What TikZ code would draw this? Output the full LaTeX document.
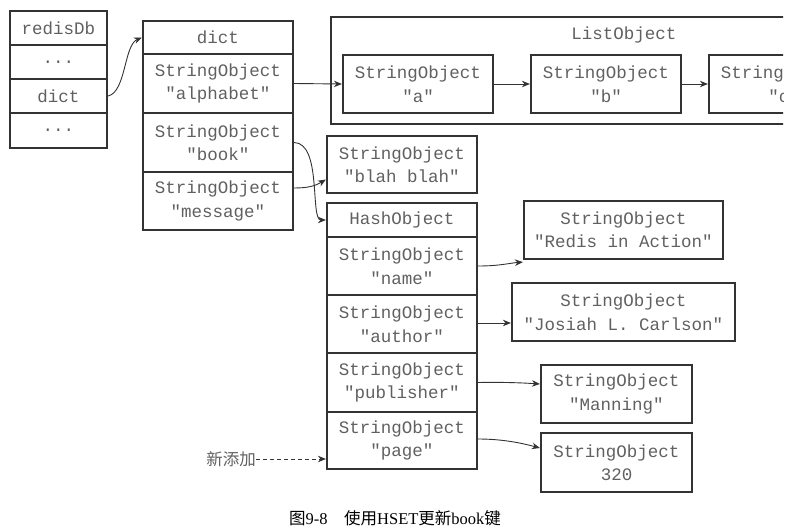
\documentclass[tikz,border=0pt]{standalone}
\usepackage{fontspec}
\setmainfont{Liberation Serif}
\setmonofont{Liberation Mono}
\newfontfamily\cjk{Noto Sans CJK SC}
\usetikzlibrary{arrows.meta}
\definecolor{txtgray}{HTML}{606060}
\definecolor{linegray}{HTML}{333333}
\tikzset{
  cell/.style={draw=linegray, line width=2.2pt, inner sep=0pt, align=center,
    text=txtgray, font=\ttfamily\fontsize{17.5}{23.5}\selectfont},
  conn/.style={draw=linegray, line width=0.9pt, -{Stealth[length=8pt,width=6.5pt]}},
}
\begin{document}
\begin{tikzpicture}[x=1pt,y=-1pt]
\useasboundingbox (0,0) rectangle (798,532);
% redisDb
\node[cell, minimum width=97pt, minimum height=34pt] (r0) at (58.5,28) {redisDb};
\node[cell, minimum width=97pt, minimum height=34pt] (r1) at (58.5,62) {...};
\node[cell, minimum width=97pt, minimum height=34pt] (r2) at (58.5,96) {dict};
\node[cell, minimum width=97pt, minimum height=35pt] (r3) at (58.5,130.5) {...};
% dict
\node[cell, minimum width=150pt, minimum height=33pt] (d0) at (218,37.5) {dict};
\node[cell, minimum width=150pt, minimum height=59pt] (d1) at (218,83.5) {StringObject\\"alphabet"};
\node[cell, minimum width=150pt, minimum height=59pt] (d2) at (218,142.5) {StringObject\\"book"};
\node[cell, minimum width=150pt, minimum height=58pt] (d3) at (218,201) {StringObject\\"message"};
% ListObject
\begin{scope}
\clip (0,0) rectangle (783,532);
\node[cell, minimum width=569pt, minimum height=107pt] (lst) at (615.5,70.5) {};
\node[text=txtgray, font=\ttfamily\fontsize{17.5}{23}\selectfont, inner sep=0pt] (lstlbl) at (624,35) {ListObject};
\node[cell, minimum width=150pt, minimum height=58pt] (la) at (418,84) {StringObject\\"a"};
\node[cell, minimum width=150pt, minimum height=58pt] (lb) at (606,84) {StringObject\\"b"};
\node[cell, minimum width=150pt, minimum height=58pt] (lc) at (784,84) {StringObject\\"c"};
\draw[conn] (la.east) -- (lb.west);
\draw[conn] (lb.east) -- (lc.west);
\end{scope}
% blah blah
\node[cell, minimum width=150pt, minimum height=57pt] (blah) at (402,164.5) {StringObject\\"blah blah"};
% HashObject
\node[cell, minimum width=150pt, minimum height=34pt] (h0) at (402,220) {HashObject};
\node[cell, minimum width=150pt, minimum height=58pt] (h1) at (402,266) {StringObject\\"name"};
\node[cell, minimum width=150pt, minimum height=58pt] (h2) at (402,324) {StringObject\\"author"};
\node[cell, minimum width=150pt, minimum height=59pt] (h3) at (402,382.5) {StringObject\\"publisher"};
\node[cell, minimum width=150pt, minimum height=57pt] (h4) at (402,440.5) {StringObject\\"page"};
% values
\node[cell, minimum width=199pt, minimum height=58pt] (ria) at (623.5,230) {StringObject\\"Redis in Action"};
\node[cell, minimum width=223pt, minimum height=58pt] (jos) at (623.5,312) {StringObject\\"Josiah L. Carlson"};
\node[cell, minimum width=151pt, minimum height=58pt] (man) at (616.5,394) {StringObject\\"Manning"};
\node[cell, minimum width=151pt, minimum height=59pt] (p320) at (616.5,462.5) {StringObject\\320};
% labels
\node[anchor=east, text=txtgray, font=\cjk\fontsize{16.5}{18}\selectfont, inner sep=0pt] (xin) at (256,459) {新添加};
\node[anchor=west, text=black, font=\fontsize{16.5}{18}\selectfont, inner sep=0pt] (cap) at (289,518)
  {{\cjk 图}9-8\hspace{1em}{\cjk 使用}HSET{\cjk 更新}book{\cjk 键}};
% connectors
\draw[conn] (r2.east) .. controls (126,92) and (124,45) .. (d0.west);
\draw[conn] (d1.east) -- (la.west);
\draw[conn] (d2.east) .. controls (322,143) and (310,220) .. (h0.west);
\draw[conn] ([yshift=13pt]d3.east) .. controls (308,188) and (315,186) .. ([yshift=-15pt]blah.west);
\draw[conn] (h1.east) .. controls (500,266) and (510,263) .. ([yshift=-2pt]ria.south west);
\draw[conn] ([yshift=1pt]h2.east) -- ([yshift=-11pt]jos.west);
\draw[conn] (h3.east) .. controls (505,382) and (525,383) .. ([yshift=10pt]man.west);
\draw[conn] ([yshift=1.5pt]h4.east) .. controls (505,439) and (525,444) .. ([yshift=14.5pt]p320.west);
\draw[conn, dash pattern=on 4pt off 3pt] (xin.east) -- ([yshift=-18.5pt]h4.west);
\end{tikzpicture}
\end{document}
